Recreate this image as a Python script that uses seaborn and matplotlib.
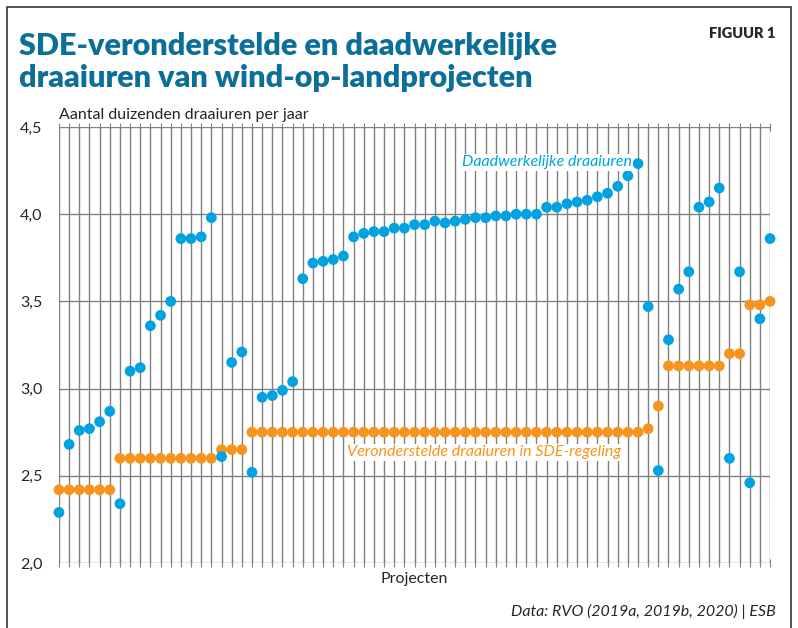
import numpy as np
import pandas as pd
import matplotlib.pyplot as plt
import seaborn as sns
from matplotlib.patches import Rectangle

# waarden (duizenden draaiuren per jaar), 71 projecten
daadwerkelijk = [
    2.29, 2.68, 2.76, 2.77, 2.81, 2.87, 2.34, 3.10, 3.12, 3.36,
    3.42, 3.50, 3.86, 3.86, 3.87, 3.98, 2.61, 3.15, 3.21, 2.52,
    2.95, 2.96, 2.99, 3.04, 3.63, 3.72, 3.73, 3.74, 3.76, 3.87,
    3.89, 3.90, 3.90, 3.92, 3.92, 3.94, 3.94, 3.96, 3.95, 3.96,
    3.97, 3.98, 3.98, 3.99, 3.99, 4.00, 4.00, 4.00, 4.04, 4.04,
    4.06, 4.07, 4.08, 4.10, 4.12, 4.16, 4.22, 4.29, 3.47, 2.53,
    3.28, 3.57, 3.67, 4.04, 4.07, 4.15, 2.60, 3.67, 2.46, 3.40,
    3.86,
]
verondersteld = [
    2.42, 2.42, 2.42, 2.42, 2.42, 2.42, 2.60, 2.60, 2.60, 2.60,
    2.60, 2.60, 2.60, 2.60, 2.60, 2.60, 2.65, 2.65, 2.65, 2.75,
    2.75, 2.75, 2.75, 2.75, 2.75, 2.75, 2.75, 2.75, 2.75, 2.75,
    2.75, 2.75, 2.75, 2.75, 2.75, 2.75, 2.75, 2.75, 2.75, 2.75,
    2.75, 2.75, 2.75, 2.75, 2.75, 2.75, 2.75, 2.75, 2.75, 2.75,
    2.75, 2.75, 2.75, 2.75, 2.75, 2.75, 2.75, 2.75, 2.77, 2.90,
    3.13, 3.13, 3.13, 3.13, 3.13, 3.13, 3.20, 3.20, 3.48, 3.48,
    3.50,
]
yticks = [2.0, 2.5, 3.0, 3.5, 4.0, 4.5]
ytick_labels = ['2,0', '2,5', '3,0', '3,5', '4,0', '4,5']

blauw = '#00a3e0'
oranje = '#f7941d'
titel_kleur = '#0b6f99'

projecten = np.arange(len(daadwerkelijk))
df = pd.DataFrame({
    'project': np.concatenate([projecten, projecten]),
    'uren': verondersteld + daadwerkelijk,
    'reeks': ['verondersteld'] * len(projecten) + ['daadwerkelijk'] * len(projecten),
})

sns.set_style('white')
plt.rcParams['font.family'] = ['Lato', 'DejaVu Sans']

fig = plt.figure(figsize=(7.98, 6.28), dpi=100)
ax = fig.add_axes([0.0739, 0.1035, 0.8911, 0.6943])

# grid
for x in projecten:
    ax.axvline(x, color='#808080', lw=1, zorder=0)
for y in yticks:
    ax.axhline(y, color='#808080', lw=1, zorder=0)

sns.scatterplot(data=df, x='project', y='uren', hue='reeks',
                palette={'verondersteld': oranje, 'daadwerkelijk': blauw},
                s=60, edgecolor='none', legend=False, ax=ax, zorder=3)
for coll in ax.collections:
    coll.set_clip_on(False)

ax.set_xlim(0, len(projecten) - 1)
ax.set_ylim(2.0, 4.5)
ax.set_yticks(yticks)
ax.set_yticklabels(ytick_labels, fontsize=11.5)
ax.set_xticks(projecten)
ax.set_xticklabels([])
ax.tick_params(axis='x', which='both', direction='inout', length=6, color='#808080',
               top=True, bottom=True)
ax.tick_params(axis='y', length=0, pad=12)
ax.set_xlabel('Projecten', fontsize=11.5, labelpad=0)
ax.set_ylabel('')
for spine in ax.spines.values():
    spine.set_visible(False)

ax.text(56.4, 4.297, 'Daadwerkelijke draaiuren', color=blauw, fontsize=11.5,
        style='italic', ha='right', va='center', zorder=4,
        bbox=dict(facecolor='white', edgecolor='none', pad=1))
ax.text(55.3, 2.634, 'Veronderstelde draaiuren in SDE-regeling', color=oranje,
        fontsize=11.5, style='italic', ha='right', va='center', zorder=4,
        bbox=dict(facecolor='white', edgecolor='none', pad=1))

fig.text(0.0739, 0.817, 'Aantal duizenden draaiuren per jaar', fontsize=11.5, va='center')
fig.text(0.024, 0.901, 'SDE-veronderstelde en daadwerkelijke\ndraaiuren van wind-op-landprojecten',
         fontsize=22, fontweight='heavy', color=titel_kleur, va='center', linespacing=1.2)
fig.text(0.972, 0.946, 'FIGUUR 1', fontsize=10.5, fontweight='heavy', ha='right', va='center')
fig.text(0.972, 0.027, 'Data: RVO (2019a, 2019b, 2020) | ESB', fontsize=11.5,
         style='italic', ha='right', va='center')

fig.patches.append(Rectangle((0.009, -0.05), 0.982, 1.039, transform=fig.transFigure,
                             fill=False, edgecolor='#333333', lw=1.2))

fig.savefig('out.png', dpi=100)
